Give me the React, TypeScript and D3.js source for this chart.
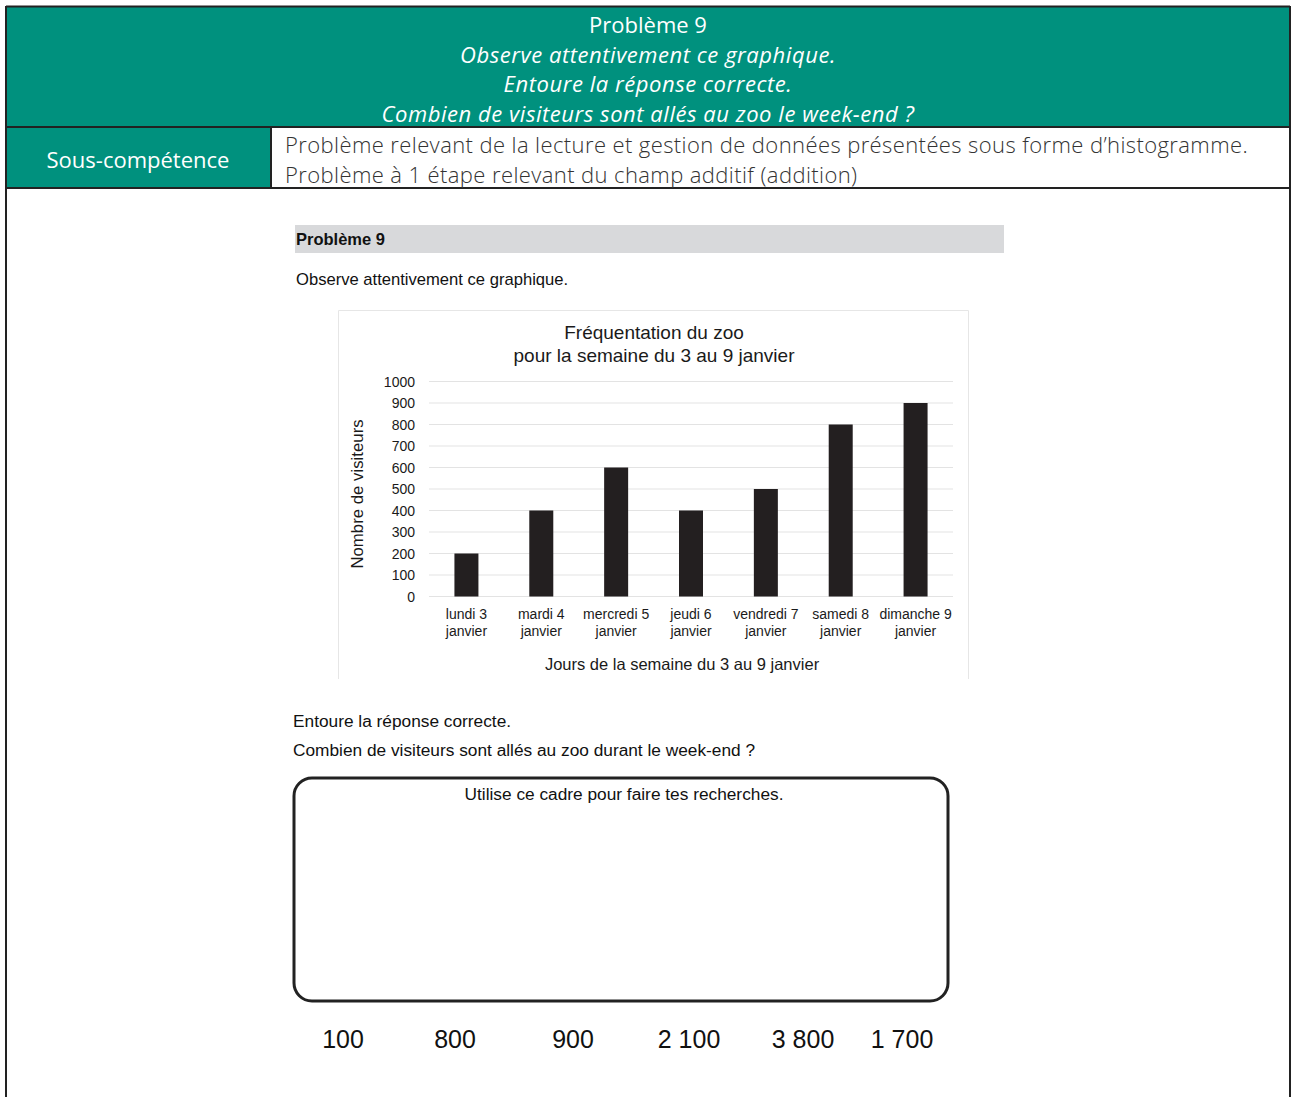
import React from "react";
import * as d3 from "d3";

const categories = [
  ["lundi 3", "janvier"],
  ["mardi 4", "janvier"],
  ["mercredi 5", "janvier"],
  ["jeudi 6", "janvier"],
  ["vendredi 7", "janvier"],
  ["samedi 8", "janvier"],
  ["dimanche 9", "janvier"],
];
const visitors = [200, 400, 600, 400, 500, 800, 900];
const yTicks = [0, 100, 200, 300, 400, 500, 600, 700, 800, 900, 1000];
const answers = ["100", "800", "900", "2 100", "3 800", "1 700"];
const answerX = [343, 455, 573, 689, 803, 902];

const TEAL = "#00917e";
const DARK = "#222222";
const ARIAL = "'Liberation Sans', Arial, sans-serif";
const HEAD = "'Open Sans', 'Noto Sans', sans-serif";

export default function App() {
  const W = 1291, H = 1097;
  const x = d3.scaleBand<number>().domain(d3.range(categories.length)).range([429, 953]).paddingInner(0.68).paddingOuter(0.34);
  const y = d3.scaleLinear().domain([0, 1000]).range([596.5, 381.5]);
  const bw = 24;

  return (
    <svg width={W} height={H} style={{ position: "absolute", left: 0, top: 0, background: "#fff" }}>
      {/* header band */}
      <rect x={6} y={6} width={1284} height={121} fill={TEAL} />
      <rect x={6} y={127} width={265} height={61} fill={TEAL} />
      {/* borders */}
      <line x1={6} y1={6.5} x2={1290} y2={6.5} stroke={DARK} strokeWidth={2} />
      <line x1={6} y1={6} x2={6} y2={H} stroke={DARK} strokeWidth={2} />
      <line x1={1290} y1={6} x2={1290} y2={H} stroke={DARK} strokeWidth={2} />
      <line x1={6} y1={127} x2={1290} y2={127} stroke={DARK} strokeWidth={2} />
      <line x1={6} y1={188} x2={1290} y2={188} stroke={DARK} strokeWidth={2} />
      <line x1={271} y1={127} x2={271} y2={188} stroke={DARK} strokeWidth={2} />

      <g fontFamily={HEAD} fill="#fff" fontSize={22} textAnchor="middle" dominantBaseline="central">
        <text x={648} y={24}>Problème 9</text>
        <text x={648} y={54} fontStyle="italic" letterSpacing={0.55}>Observe attentivement ce graphique.</text>
        <text x={648} y={83} fontStyle="italic" letterSpacing={0.55}>Entoure la réponse correcte.</text>
        <text x={648} y={113} fontStyle="italic" letterSpacing={0.55}>Combien de visiteurs sont allés au zoo le week-end ?</text>
        <text x={138} y={159}>Sous-compétence</text>
      </g>
      <g fontFamily={HEAD} fill="#333" fontSize={22} fontWeight={300} letterSpacing={0.4} dominantBaseline="central">
        <text x={285} y={144}>Problème relevant de la lecture et gestion de données présentées sous forme d’histogramme.</text>
        <text x={285} y={174}>Problème à 1 étape relevant du champ additif (addition)</text>
      </g>

      {/* problem heading */}
      <rect x={295} y={225} width={709} height={28} fill="#d8d9db" />
      <text x={296} y={239} fontFamily={ARIAL} fontWeight="bold" fontSize={16.5} fill="#111" dominantBaseline="central">Problème 9</text>
      <text x={296} y={279} fontFamily={ARIAL} fontSize={16.6} fill="#111" dominantBaseline="central">Observe attentivement ce graphique.</text>

      {/* chart panel */}
      <path d="M338.5,679 V310.5 H968.5 V679" fill="none" stroke="#e6e6e6" strokeWidth={1} />
      <g fontFamily={ARIAL} fill="#1a1a1a">
        <text x={654} y={332} fontSize={19} textAnchor="middle" dominantBaseline="central">Fréquentation du zoo</text>
        <text x={654} y={355} fontSize={19} textAnchor="middle" dominantBaseline="central">pour la semaine du 3 au 9 janvier</text>
        {yTicks.map((t) => (
          <g key={t}>
            <line x1={429} x2={953} y1={y(t)} y2={y(t)} stroke="#e3e3e3" strokeWidth={1} />
            <text x={415} y={y(t)} fontSize={14} textAnchor="end" dominantBaseline="central">{t}</text>
          </g>
        ))}
        {visitors.map((v, i) => {
          const cx = (x(i) as number) + x.bandwidth() / 2;
          return (
            <rect key={i} x={cx - bw / 2} y={y(v)} width={bw} height={y(0) - y(v)} fill="#231f20" />
          );
        })}
        {categories.map((c, i) => {
          const cx = (x(i) as number) + x.bandwidth() / 2;
          return (
            <text key={i} x={cx} fontSize={14} textAnchor="middle" dominantBaseline="central">
              <tspan x={cx} y={614}>{c[0]}</tspan>
              <tspan x={cx} y={631}>{c[1]}</tspan>
            </text>
          );
        })}
        <text x={682} y={664} fontSize={16.5} textAnchor="middle" dominantBaseline="central">Jours de la semaine du 3 au 9 janvier</text>
        <text transform="translate(357,494) rotate(-90)" fontSize={16.8} textAnchor="middle" dominantBaseline="central">Nombre de visiteurs</text>
      </g>

      {/* question */}
      <g fontFamily={ARIAL} fontSize={17.3} fill="#111" dominantBaseline="central">
        <text x={293} y={721}>Entoure la réponse correcte.</text>
        <text x={293} y={750}>Combien de visiteurs sont allés au zoo durant le week-end ?</text>
      </g>
      <rect x={294} y={778} width={654} height={223} rx={18} ry={18} fill="none" stroke={DARK} strokeWidth={3} />
      <text x={624} y={794} fontFamily={ARIAL} fontSize={17.3} fill="#111" textAnchor="middle" dominantBaseline="central">Utilise ce cadre pour faire tes recherches.</text>
      <g fontFamily={ARIAL} fontSize={25} fill="#111" textAnchor="middle" dominantBaseline="central">
        {answers.map((a, i) => (
          <text key={a} x={answerX[i]} y={1039}>{a}</text>
        ))}
      </g>
    </svg>
  );
}
